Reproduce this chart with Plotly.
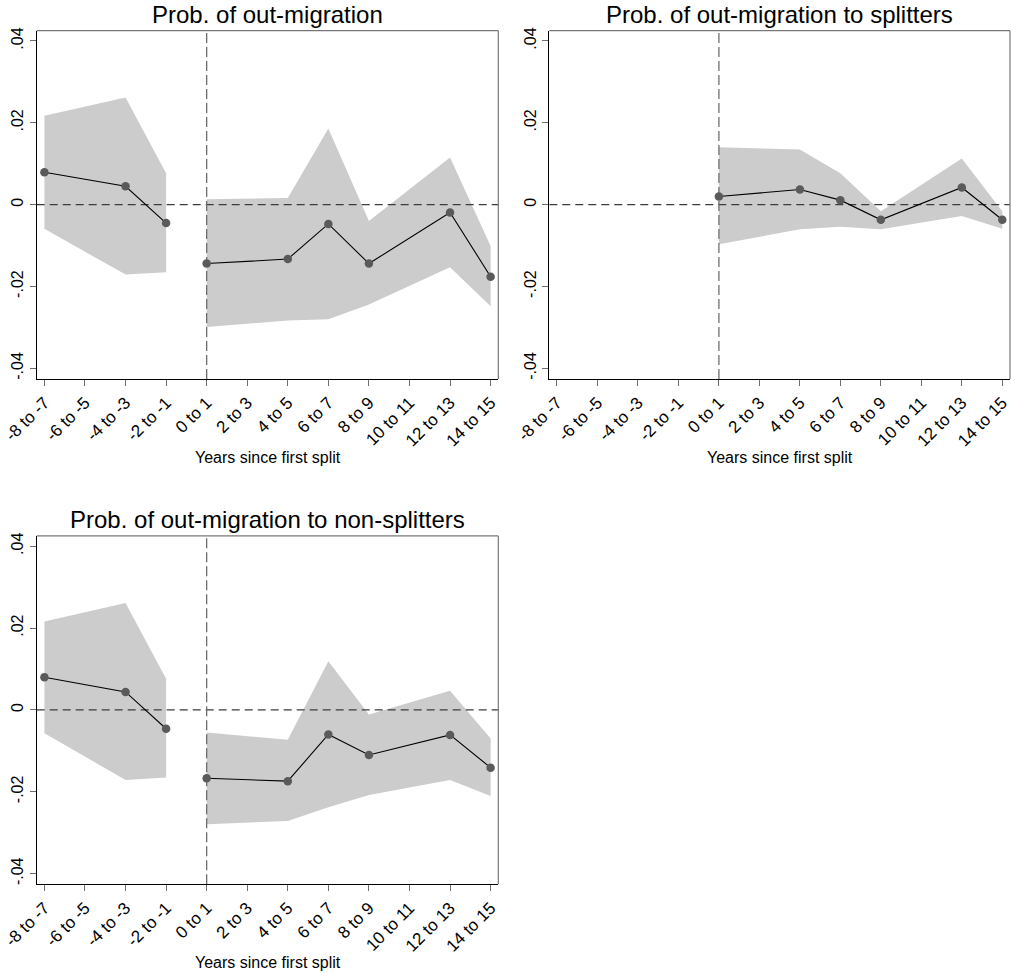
import plotly.graph_objects as go

# Event-time bins (two-year groups around the first split)
categories = ["-8 to -7", "-6 to -5", "-4 to -3", "-2 to -1", "0 to 1", "2 to 3",
              "4 to 5", "6 to 7", "8 to 9", "10 to 11", "12 to 13", "14 to 15"]
split_category = "0 to 1"

y_tickvals = [-0.04, -0.02, 0, 0.02, 0.04]
y_ticktext = ["-.04", "-.02", "0", ".02", ".04"]

# Panel 1: probability of out-migration
p1_pre_x = ["-8 to -7", "-4 to -3", "-2 to -1"]
p1_pre_est = [0.0079, 0.0045, -0.0045]
p1_pre_hi = [0.0217, 0.0262, 0.0077]
p1_pre_lo = [-0.0059, -0.0171, -0.0165]
p1_post_x = ["0 to 1", "4 to 5", "6 to 7", "8 to 9", "12 to 13", "14 to 15"]
p1_post_est = [-0.0144, -0.0133, -0.0047, -0.0144, -0.0019, -0.0176]
p1_post_hi = [0.0013, 0.0016, 0.0186, -0.0040, 0.0115, -0.0101]
p1_post_lo = [-0.0299, -0.0283, -0.0280, -0.0244, -0.0153, -0.0248]

# Panel 2: probability of out-migration to splitters
p2_post_x = ["0 to 1", "4 to 5", "6 to 7", "8 to 9", "12 to 13", "14 to 15"]
p2_post_est = [0.0020, 0.0037, 0.0011, -0.0037, 0.0042, -0.0037]
p2_post_hi = [0.0140, 0.0135, 0.0077, -0.0016, 0.0113, -0.0016]
p2_post_lo = [-0.0097, -0.0060, -0.0054, -0.0060, -0.0028, -0.0059]

# Panel 3: probability of out-migration to non-splitters
p3_pre_x = ["-8 to -7", "-4 to -3", "-2 to -1"]
p3_pre_est = [0.0080, 0.0044, -0.0046]
p3_pre_hi = [0.0216, 0.0261, 0.0076]
p3_pre_lo = [-0.0057, -0.0171, -0.0165]
p3_post_x = ["0 to 1", "4 to 5", "6 to 7", "8 to 9", "12 to 13", "14 to 15"]
p3_post_est = [-0.0167, -0.0174, -0.0060, -0.0110, -0.0061, -0.0141]
p3_post_hi = [-0.0055, -0.0073, 0.0119, -0.0011, 0.0047, -0.0070]
p3_post_lo = [-0.0279, -0.0271, -0.0238, -0.0208, -0.0171, -0.0210]

titles = ["Prob. of out-migration",
          "Prob. of out-migration to splitters",
          "Prob. of out-migration to non-splitters"]
x_title = "Years since first split"

FONT = "Liberation Sans, Arial, sans-serif"
CI_FILL = "rgb(204,204,204)"
MARKER = "rgb(90,90,90)"
X_RANGE = [-0.19, 11.19]
Y_RANGE = [-0.0426, 0.0425]

panels = [
    dict(segments=[(p1_pre_x, p1_pre_est, p1_pre_hi, p1_pre_lo),
                   (p1_post_x, p1_post_est, p1_post_hi, p1_post_lo)],
         xdom=[0.0363, 0.4929], ydom=[0.6113, 0.9685]),
    dict(segments=[(p2_post_x, p2_post_est, p2_post_hi, p2_post_lo)],
         xdom=[0.5433, 0.9990], ydom=[0.6113, 0.9685]),
    dict(segments=[(p3_pre_x, p3_pre_est, p3_pre_hi, p3_pre_lo),
                   (p3_post_x, p3_post_est, p3_post_hi, p3_post_lo)],
         xdom=[0.0363, 0.4929], ydom=[0.0930, 0.4503]),
]


def pos(labels):
    return [categories.index(c) for c in labels]


fig = go.Figure()
split_pos = categories.index(split_category)
annotations = []
shapes = []

for k, p in enumerate(panels):
    sfx = "" if k == 0 else str(k + 1)
    xa, ya = "x" + sfx, "y" + sfx

    # confidence bands
    for xs, est, hi, lo in p["segments"]:
        xp = pos(xs)
        fig.add_trace(go.Scatter(
            x=xp + xp[::-1], y=hi + lo[::-1], fill="toself", fillcolor=CI_FILL,
            line=dict(width=0), mode="lines", hoverinfo="skip",
            showlegend=False, xaxis=xa, yaxis=ya))

    # reference lines: zero effect and first split
    fig.add_trace(go.Scatter(
        x=X_RANGE, y=[0, 0], mode="lines",
        line=dict(color="rgb(60,60,60)", width=1.3, dash="8px,5px"),
        hoverinfo="skip", showlegend=False, xaxis=xa, yaxis=ya))
    fig.add_trace(go.Scatter(
        x=[split_pos, split_pos], y=Y_RANGE, mode="lines",
        line=dict(color="rgb(110,110,110)", width=1.3, dash="10px,4px"),
        hoverinfo="skip", showlegend=False, xaxis=xa, yaxis=ya))

    # point estimates
    for xs, est, hi, lo in p["segments"]:
        fig.add_trace(go.Scatter(
            x=pos(xs), y=est, mode="lines+markers",
            line=dict(color="black", width=1.1),
            marker=dict(color=MARKER, size=8.5),
            showlegend=False, xaxis=xa, yaxis=ya))

    fig.layout["xaxis" + sfx] = dict(
        domain=p["xdom"], anchor=ya, range=X_RANGE, automargin=False,
        tickmode="array", tickvals=list(range(len(categories))), ticktext=categories,
        tickangle=-45, ticks="outside", ticklen=6, tickcolor="rgb(110,110,110)",
        tickfont=dict(family=FONT, size=17, color="black"),
        ticklabeloverflow="allow",
        showline=True, linecolor="black", linewidth=1.2,
        showgrid=False, zeroline=False)
    fig.layout["yaxis" + sfx] = dict(
        domain=p["ydom"], anchor=xa, range=Y_RANGE, automargin=False,
        tickmode="array", tickvals=y_tickvals, ticktext=y_ticktext,
        tickangle=-90, ticks="outside", ticklen=6, tickcolor="rgb(110,110,110)",
        tickfont=dict(family=FONT, size=16, color="black"),
        ticklabeloverflow="allow",
        showline=True, linecolor="black", linewidth=1.2,
        showgrid=False, zeroline=False)

    # grey frame on top and right
    shapes.append(dict(type="line", xref=xa + " domain", yref=ya + " domain",
                       x0=0, x1=1, y0=1, y1=1,
                       line=dict(color="rgb(120,120,120)", width=1.2)))
    shapes.append(dict(type="line", xref=xa + " domain", yref=ya + " domain",
                       x0=1, x1=1, y0=0, y1=1,
                       line=dict(color="rgb(120,120,120)", width=1.2)))

    xc = (p["xdom"][0] + p["xdom"][1]) / 2
    annotations.append(dict(text=titles[k], x=xc, y=p["ydom"][1] + 0.0165,
                            xref="paper", yref="paper", showarrow=False,
                            xanchor="center", yanchor="middle",
                            font=dict(family=FONT, size=24, color="black")))
    annotations.append(dict(text=x_title, x=xc, y=p["ydom"][0] - 0.0805,
                            xref="paper", yref="paper", showarrow=False,
                            xanchor="center", yanchor="middle",
                            font=dict(family=FONT, size=16, color="black")))

fig.update_layout(
    width=1011, height=975,
    margin=dict(l=0, r=0, t=0, b=0),
    paper_bgcolor="white", plot_bgcolor="white",
    annotations=annotations, shapes=shapes,
)

fig.write_html("out.html")
